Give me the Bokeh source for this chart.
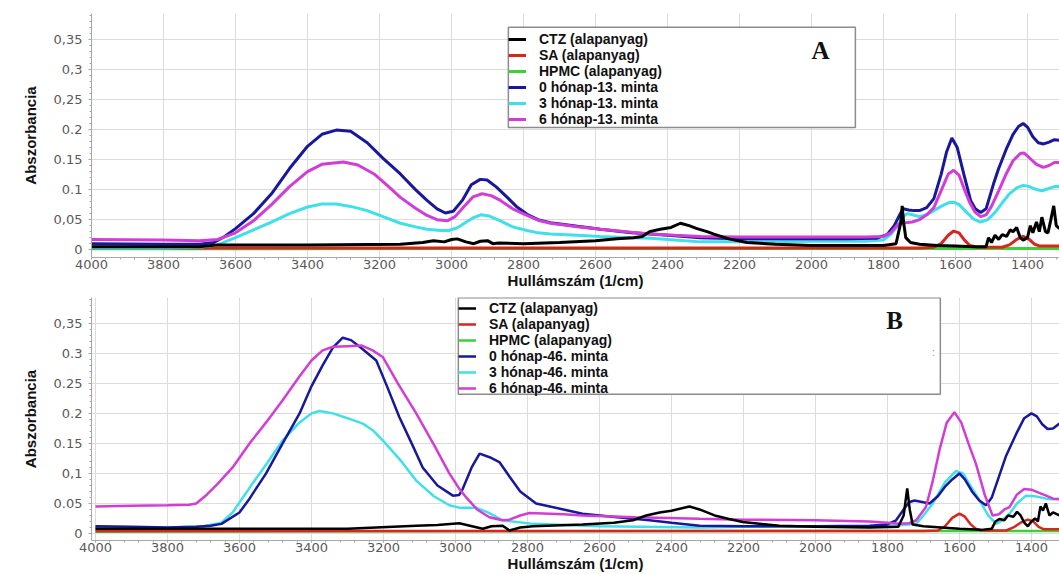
from bokeh.plotting import figure
from bokeh.models import (Range1d, FixedTicker, CustomJSTickFormatter, Legend,
                          LegendItem, Label, BoxAnnotation)
from bokeh.layouts import column
from bokeh.embed import file_html
from bokeh.resources import INLINE

# ---------------- data : panel A (13. minta) ----------------
A_CTZ_x = [4000, 3700, 3650, 3400, 3142, 3080, 3050, 3020, 3000, 2984, 2960, 2938, 2920, 2900, 2885, 2870,
           2800, 2700, 2600, 2540, 2494, 2470, 2450, 2420, 2390, 2364, 2340, 2318, 2290, 2271, 2230, 2179,
           2100, 2000, 1900, 1800, 1765, 1752, 1748, 1744, 1738, 1725, 1700, 1650, 1600, 1550, 1515, 1508,
           1500, 1490, 1480, 1470, 1458, 1448, 1440, 1430, 1420, 1412, 1400, 1392, 1385, 1375, 1367, 1360,
           1350, 1343, 1335, 1327, 1320, 1311]
A_CTZ_y = [0.005, 0.005, 0.008, 0.008, 0.009, 0.012, 0.015, 0.013, 0.017, 0.018, 0.013, 0.010, 0.014, 0.015, 0.010, 0.011,
           0.010, 0.012, 0.015, 0.018, 0.020, 0.022, 0.030, 0.034, 0.037, 0.044, 0.040, 0.035, 0.030, 0.026, 0.018, 0.012,
           0.009, 0.007, 0.007, 0.007, 0.010, 0.045, 0.073, 0.045, 0.020, 0.012, 0.009, 0.007, 0.006, 0.005, 0.005, 0.020,
           0.012, 0.024, 0.017, 0.025, 0.022, 0.033, 0.030, 0.037, 0.020, 0.016, 0.020, 0.040, 0.028, 0.046, 0.030, 0.054,
           0.030, 0.028, 0.050, 0.073, 0.040, 0.035]
A_SA_x = [4000, 1700, 1660, 1640, 1620, 1605, 1590, 1575, 1560, 1540, 1470, 1450, 1430, 1412, 1395, 1380, 1365, 1311]
A_SA_y = [0.003, 0.003, 0.004, 0.010, 0.024, 0.031, 0.028, 0.016, 0.007, 0.004, 0.004, 0.008, 0.017, 0.022, 0.017, 0.009, 0.006, 0.006]
A_HPMC_x = [4000, 3000, 2000, 1311]
A_HPMC_y = [0.0015, 0.0018, 0.0018, 0.0018]
A_M0_x = [4000, 3800, 3700, 3660, 3630, 3600, 3550, 3500, 3450, 3400, 3360, 3320, 3280, 3234, 3190, 3142, 3100,
          3068, 3040, 3017, 2995, 2970, 2945, 2920, 2901, 2875, 2845, 2820, 2790, 2760, 2725, 2650, 2586, 2500,
          2447, 2380, 2308, 2200, 2100, 2000, 1900, 1820, 1790, 1770, 1755, 1745, 1730, 1715, 1700, 1680, 1660,
          1640, 1625, 1610, 1595, 1577, 1558, 1545, 1530, 1515, 1494, 1480, 1457, 1440, 1425, 1412, 1400, 1385,
          1370, 1355, 1340, 1325, 1311]
A_M0_y = [0.010, 0.009, 0.009, 0.012, 0.022, 0.035, 0.060, 0.093, 0.135, 0.172, 0.192, 0.199, 0.197, 0.178, 0.152, 0.126, 0.100,
          0.082, 0.068, 0.061, 0.064, 0.082, 0.108, 0.117, 0.116, 0.104, 0.087, 0.072, 0.059, 0.050, 0.045, 0.039, 0.034, 0.028,
          0.026, 0.023, 0.020, 0.018, 0.018, 0.018, 0.018, 0.019, 0.025, 0.040, 0.058, 0.068, 0.066, 0.065, 0.065, 0.070, 0.085,
          0.125, 0.162, 0.186, 0.170, 0.126, 0.082, 0.068, 0.062, 0.068, 0.110, 0.135, 0.170, 0.192, 0.205, 0.210, 0.204, 0.188,
          0.178, 0.176, 0.179, 0.183, 0.182]
A_M3_x = [4000, 3800, 3700, 3650, 3600, 3550, 3500, 3450, 3400, 3360, 3320, 3280, 3234, 3190, 3142, 3100, 3068,
          3030, 3008, 2985, 2966, 2940, 2919, 2895, 2864, 2830, 2790, 2760, 2725, 2650, 2586, 2500, 2447, 2380,
          2308, 2200, 2000, 1850, 1800, 1780, 1760, 1745, 1734, 1720, 1700, 1680, 1660, 1640, 1620, 1605, 1590,
          1570, 1550, 1530, 1510, 1490, 1470, 1450, 1430, 1412, 1395, 1375, 1360, 1345, 1325, 1311]
A_M3_y = [0.003, 0.003, 0.004, 0.008, 0.020, 0.033, 0.046, 0.060, 0.071, 0.076, 0.076, 0.072, 0.065, 0.055, 0.044, 0.038, 0.034,
          0.032, 0.032, 0.036, 0.043, 0.053, 0.058, 0.056, 0.048, 0.038, 0.032, 0.028, 0.026, 0.024, 0.022, 0.020, 0.019, 0.016,
          0.013, 0.013, 0.014, 0.014, 0.016, 0.025, 0.040, 0.055, 0.060, 0.058, 0.055, 0.058, 0.065, 0.072, 0.078, 0.079, 0.075,
          0.063, 0.051, 0.046, 0.050, 0.062, 0.078, 0.093, 0.103, 0.107, 0.105, 0.100, 0.098, 0.101, 0.105, 0.105]
A_M6_x = [4000, 3800, 3700, 3650, 3600, 3550, 3500, 3450, 3400, 3360, 3300, 3260, 3215, 3180, 3142, 3100, 3068,
          3040, 3012, 2990, 2965, 2940, 2915, 2890, 2864, 2830, 2790, 2760, 2725, 2650, 2586, 2500, 2447, 2380,
          2308, 2200, 2000, 1850, 1800, 1780, 1760, 1740, 1720, 1700, 1680, 1660, 1632, 1620, 1605, 1590, 1575,
          1560, 1545, 1530, 1515, 1500, 1480, 1460, 1440, 1420, 1410, 1395, 1375, 1356, 1340, 1325, 1311]
A_M6_y = [0.017, 0.016, 0.015, 0.017, 0.028, 0.048, 0.075, 0.105, 0.130, 0.142, 0.146, 0.141, 0.126, 0.108, 0.087, 0.069, 0.057,
          0.050, 0.048, 0.055, 0.072, 0.088, 0.093, 0.090, 0.082, 0.068, 0.057, 0.049, 0.044, 0.038, 0.034, 0.029, 0.026, 0.024,
          0.022, 0.021, 0.021, 0.021, 0.022, 0.028, 0.042, 0.045, 0.046, 0.050, 0.058, 0.070, 0.109, 0.126, 0.132, 0.124, 0.100,
          0.078, 0.062, 0.055, 0.058, 0.072, 0.098, 0.125, 0.148, 0.160, 0.161, 0.153, 0.142, 0.137, 0.140, 0.145, 0.145]

# ---------------- data : panel B (46. minta) ----------------
B_CTZ_x = [4000, 3600, 3300, 3109, 3050, 2989, 2960, 2924, 2900, 2869, 2850, 2820, 2785, 2647, 2560, 2507, 2470,
           2433, 2400, 2350, 2322, 2280, 2240, 2202, 2100, 2000, 1850, 1770, 1755, 1745, 1738, 1730, 1700, 1650,
           1600, 1540, 1510, 1500, 1489, 1475, 1465, 1450, 1440, 1430, 1420, 1410, 1400, 1390, 1382, 1375, 1368,
           1360, 1350, 1340, 1322]
B_CTZ_y = [0.008, 0.008, 0.008, 0.013, 0.014, 0.017, 0.013, 0.008, 0.012, 0.013, 0.005, 0.010, 0.012, 0.015, 0.018, 0.022, 0.030,
           0.035, 0.038, 0.045, 0.040, 0.030, 0.024, 0.019, 0.013, 0.011, 0.010, 0.011, 0.030, 0.075, 0.040, 0.015, 0.012, 0.010,
           0.008, 0.006, 0.008, 0.020, 0.024, 0.022, 0.030, 0.028, 0.036, 0.030, 0.018, 0.012, 0.020, 0.025, 0.020, 0.045, 0.038,
           0.050, 0.030, 0.035, 0.030]
B_SA_x = [4000, 1700, 1660, 1640, 1620, 1600, 1585, 1570, 1555, 1540, 1470, 1450, 1430, 1410, 1395, 1380, 1365, 1322]
B_SA_y = [0.004, 0.004, 0.005, 0.012, 0.026, 0.033, 0.028, 0.016, 0.008, 0.005, 0.005, 0.010, 0.018, 0.023, 0.020, 0.011, 0.007, 0.007]
B_HPMC_x = [4000, 3000, 2000, 1322]
B_HPMC_y = [0.003, 0.0035, 0.004, 0.004]
B_M0_x = [4000, 3900, 3800, 3720, 3680, 3650, 3600, 3572, 3526, 3480, 3433, 3400, 3369, 3340, 3313, 3290, 3260,
          3220, 3190, 3156, 3120, 3091, 3050, 3007, 2990, 2980, 2955, 2933, 2905, 2878, 2850, 2820, 2776, 2700,
          2647, 2550, 2461, 2400, 2322, 2200, 2000, 1850, 1800, 1776, 1755, 1740, 1725, 1700, 1683, 1660, 1640,
          1620, 1600, 1585, 1565, 1545, 1526, 1510, 1490, 1470, 1443, 1420, 1400, 1385, 1370, 1355, 1340, 1322]
B_M0_y = [0.012, 0.011, 0.010, 0.011, 0.013, 0.016, 0.035, 0.058, 0.100, 0.150, 0.200, 0.245, 0.280, 0.310, 0.326, 0.322, 0.308,
          0.288, 0.245, 0.194, 0.148, 0.110, 0.080, 0.063, 0.064, 0.074, 0.110, 0.133, 0.127, 0.119, 0.095, 0.070, 0.050, 0.040,
          0.033, 0.027, 0.022, 0.018, 0.013, 0.012, 0.012, 0.013, 0.015, 0.022, 0.040, 0.052, 0.055, 0.052, 0.050, 0.062, 0.078,
          0.090, 0.100, 0.090, 0.070, 0.055, 0.047, 0.060, 0.095, 0.130, 0.165, 0.192, 0.200, 0.195, 0.182, 0.174, 0.175, 0.183]
B_M3_x = [4000, 3800, 3700, 3650, 3619, 3572, 3526, 3480, 3433, 3400, 3378, 3340, 3300, 3257, 3230, 3202, 3150,
          3109, 3060, 3017, 2990, 2943, 2910, 2869, 2785, 2600, 2322, 2200, 2000, 1800, 1720, 1700, 1674, 1640,
          1610, 1590, 1570, 1544, 1520, 1498, 1480, 1461, 1440, 1415, 1390, 1359, 1340, 1322]
B_M3_y = [0.010, 0.010, 0.012, 0.018, 0.035, 0.076, 0.115, 0.155, 0.185, 0.200, 0.204, 0.200, 0.192, 0.183, 0.172, 0.155, 0.120,
          0.088, 0.062, 0.047, 0.043, 0.043, 0.035, 0.022, 0.016, 0.012, 0.010, 0.011, 0.012, 0.012, 0.016, 0.030, 0.050, 0.085,
          0.104, 0.100, 0.080, 0.055, 0.030, 0.016, 0.022, 0.033, 0.050, 0.063, 0.062, 0.058, 0.057, 0.058]
B_M6_x = [4000, 3900, 3800, 3740, 3720, 3690, 3660, 3619, 3572, 3526, 3480, 3433, 3400, 3369, 3340, 3300, 3260,
          3230, 3202, 3160, 3109, 3060, 3017, 2990, 2970, 2940, 2906, 2870, 2850, 2820, 2794, 2700, 2646, 2500,
          2322, 2200, 2000, 1850, 1800, 1767, 1740, 1720, 1693, 1675, 1655, 1635, 1614, 1595, 1575, 1554, 1530,
          1508, 1490, 1475, 1461, 1440, 1420, 1400, 1380, 1359, 1340, 1322]
B_M6_y = [0.045, 0.046, 0.047, 0.048, 0.050, 0.065, 0.083, 0.110, 0.150, 0.185, 0.222, 0.262, 0.288, 0.305, 0.311, 0.312, 0.313,
          0.305, 0.294, 0.250, 0.200, 0.148, 0.100, 0.075, 0.060, 0.040, 0.027, 0.022, 0.023, 0.030, 0.034, 0.032, 0.030, 0.027,
          0.0245, 0.023, 0.022, 0.020, 0.018, 0.016, 0.017, 0.022, 0.044, 0.085, 0.140, 0.185, 0.202, 0.185, 0.150, 0.116, 0.065,
          0.030, 0.032, 0.040, 0.044, 0.065, 0.074, 0.073, 0.068, 0.063, 0.058, 0.057]

# ---------------- labels ----------------
LABELS_A = ["CTZ (alapanyag)", "SA (alapanyag)", "HPMC (alapanyag)",
            "0 hónap-13. minta", "3 hónap-13. minta", "6 hónap-13. minta"]
LABELS_B = ["CTZ (alapanyag)", "SA (alapanyag)", "HPMC (alapanyag)",
            "0 hónap-46. minta", "3 hónap-46. minta", "6 hónap-46. minta"]
X_TICKS = [4000, 3800, 3600, 3400, 3200, 3000, 2800, 2600, 2400, 2200, 2000, 1800, 1600, 1400]
Y_TICKS = [0, 0.05, 0.1, 0.15, 0.2, 0.25, 0.3, 0.35]
Y_TICK_LABELS_A = ["0", "0,05", "0.1", "0.15", "0.2", "0,25", "0,3", "0,35"]
Y_TICK_LABELS_B = ["0", "0.05", "0,1", "0.15", "0.2", "0.25", "0.3", "0,35"]
X_TITLE = "Hullámszám (1/cm)"
Y_TITLE = "Abszorbancia"

COLORS = ["#000000", "#d8261d", "#3bd13b", "#18189c", "#3fe0ea", "#d23dd6"]
DRAW_ORDER = [2, 1, 4, 3, 5, 0]


def make_panel(series, labels, ytlabels, height, border_top, border_bottom, xr, yr,
               lw, leg_loc, label_w, box, panel_letter, letter_pos):
    p = figure(width=1059, height=height, output_backend="svg", toolbar_location=None,
               x_range=Range1d(*xr), y_range=Range1d(*yr),
               min_border_left=91, min_border_right=0,
               min_border_top=border_top, min_border_bottom=border_bottom)
    p.outline_line_color = None
    p.background_fill_color = "white"
    p.border_fill_color = "white"
    renderers = [None] * 6
    for i in DRAW_ORDER:
        xs, ys = series[i]
        renderers[i] = p.line(xs, ys, line_color=COLORS[i], line_width=lw)

    minor_x = [4000 - 40 * k for k in range(0, 70)]
    minor_y = [round(0.01 * k, 2) for k in range(0, 40)]
    p.xaxis.ticker = FixedTicker(ticks=X_TICKS, minor_ticks=minor_x)
    p.yaxis.ticker = FixedTicker(ticks=Y_TICKS, minor_ticks=minor_y)
    p.yaxis.formatter = CustomJSTickFormatter(args=dict(tv=Y_TICKS, lab=ytlabels), code="""
        for (let i = 0; i < tv.length; i++) { if (Math.abs(tv[i] - tick) < 1e-9) return lab[i]; }
        return "";
    """)
    for ax in (p.xaxis, p.yaxis):
        ax.axis_line_color = "#a8a8a8"
        ax.major_tick_line_color = "#a8a8a8"
        ax.minor_tick_line_color = "#a8a8a8"
        ax.major_tick_in = 0
        ax.major_tick_out = 3
        ax.minor_tick_in = 0
        ax.minor_tick_out = 2
        ax.major_label_text_font = "DejaVu Sans"
        ax.major_label_text_font_size = "13px"
        ax.major_label_text_color = "#5a5a5a"
        ax.axis_label_text_font = "Liberation Sans"
        ax.axis_label_text_font_style = "bold"
        ax.axis_label_text_color = "#111111"
    p.xaxis.axis_label = X_TITLE
    p.yaxis.axis_label = Y_TITLE
    p.xaxis.major_tick_out = 2
    p.xaxis.axis_label_text_font_size = "15px"
    p.yaxis.axis_label_text_font_size = "15px"
    p.xaxis.major_label_standoff = 0
    p.xaxis.axis_label_standoff = 0
    p.yaxis.major_label_standoff = 6
    p.yaxis.axis_label_standoff = 12
    p.xgrid.ticker = FixedTicker(ticks=X_TICKS)
    p.ygrid.ticker = FixedTicker(ticks=Y_TICKS)
    p.grid.grid_line_color = "#dcdcdc"
    p.grid.grid_line_width = 1

    # legend frame (white box with grey border)
    p.add_layout(BoxAnnotation(left=box[0], right=box[1], top=box[2], bottom=box[3],
                               fill_color="white", fill_alpha=1.0,
                               line_color="#8c8c8c", line_width=1.5, line_alpha=1.0))

    items = [LegendItem(label=labels[i], renderers=[renderers[i]]) for i in range(6)]
    leg = Legend(items=items, location=leg_loc, orientation="vertical")
    leg.border_line_color = None
    leg.background_fill_alpha = 0
    leg.padding = 2
    leg.margin = 0
    leg.spacing = 0
    leg.glyph_width = 18
    leg.glyph_height = 16
    leg.label_height = 16
    leg.label_standoff = 13
    leg.label_width = label_w
    leg.label_text_font = "Liberation Sans"
    leg.label_text_font_size = "14px"
    leg.label_text_font_style = "bold"
    leg.label_text_color = "#111111"
    p.add_layout(leg, "center")

    p.add_layout(Label(x=letter_pos[0], y=letter_pos[1], text=panel_letter,
                       text_font="Liberation Serif", text_font_style="bold",
                       text_font_size="25px", text_align="center",
                       text_baseline="middle", text_color="#111111"))
    return p


series_A = [(A_CTZ_x, A_CTZ_y), (A_SA_x, A_SA_y), (A_HPMC_x, A_HPMC_y),
            (A_M0_x, A_M0_y), (A_M3_x, A_M3_y), (A_M6_x, A_M6_y)]
series_B = [(B_CTZ_x, B_CTZ_y), (B_SA_x, B_SA_y), (B_HPMC_x, B_HPMC_y),
            (B_M0_x, B_M0_y), (B_M3_x, B_M3_y), (B_M6_x, B_M6_y)]

pA = make_panel(series_A, LABELS_A, Y_TICK_LABELS_A, 293, 13, 36, (4000, 1311), (-0.013, 0.393),
                3, (417, 130), 310, (2842, 1878, 0.370, 0.2033), "A", (1975, 0.332))
pB = make_panel(series_B, LABELS_B, Y_TICK_LABELS_B, 281, 4, 34, (4011, 1322), (-0.0117, 0.393),
                2.5, (367, 144), 445, (2992, 1653, 0.3925, 0.2317), "B", (1780, 0.355))
pB.add_layout(Label(x=1672, y=0.302, text=":", text_font="Liberation Sans",
                    text_font_size="11px", text_color="#999999", text_align="center",
                    text_baseline="middle"))

layout = column(pA, pB, spacing=0)
open("out.html", "w").write(file_html(layout, INLINE))
